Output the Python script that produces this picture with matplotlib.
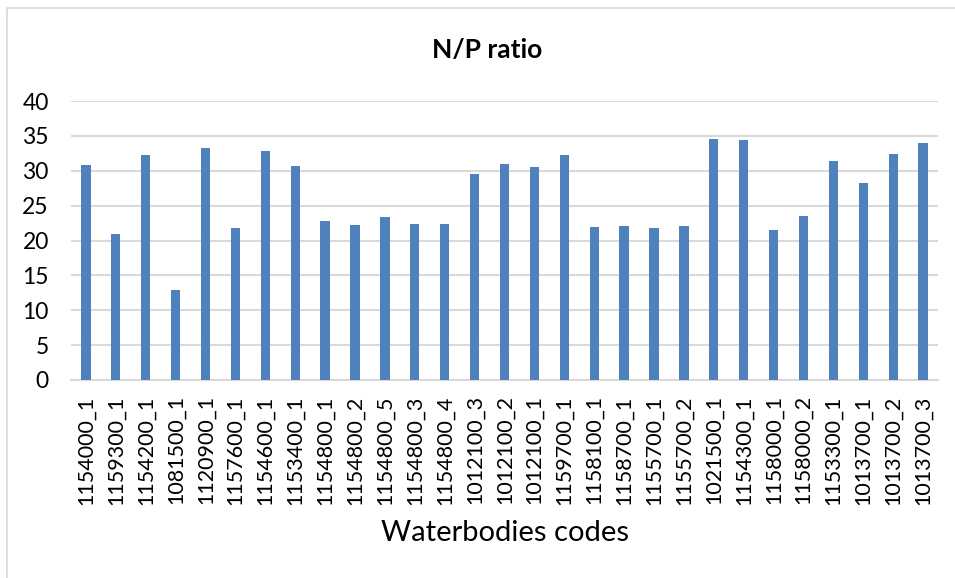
import matplotlib.pyplot as plt
from matplotlib.patches import Rectangle
import numpy as np

codes = ['1154000_1', '1159300_1', '1154200_1', '1081500_1', '1120900_1', '1157600_1',
         '1154600_1', '1153400_1', '1154800_1', '1154800_2', '1154800_5', '1154800_3',
         '1154800_4', '1012100_3', '1012100_2', '1012100_1', '1159700_1', '1158100_1',
         '1158700_1', '1155700_1', '1155700_2', '1021500_1', '1154300_1', '1158000_1',
         '1158000_2', '1153300_1', '1013700_1', '1013700_2', '1013700_3']
np_ratio = [30.8, 21.0, 32.3, 12.9, 33.3, 21.8, 32.8, 30.7, 22.8, 22.2, 23.4, 22.4,
            22.4, 29.6, 31.0, 30.6, 32.3, 21.9, 22.1, 21.8, 22.1, 34.5, 34.4, 21.5,
            23.5, 31.4, 28.3, 32.4, 34.0]

plt.rcParams['font.family'] = ['Lato', 'DejaVu Sans']

W, H = 955, 578
fig = plt.figure(figsize=(W / 100, H / 100), dpi=100)
ax = fig.add_axes([71 / W, 198 / H, 867 / W, 279 / H])

# light frame around the chart area (runs off the right and bottom edge)
fig.patches.append(Rectangle((7 / W, -1), 2, 2 - 8 / H, transform=fig.transFigure,
                             fill=False, edgecolor='#d9d9d9', linewidth=1.2))

x = np.arange(len(codes))
ax.bar(x, np_ratio, width=0.31, color='#4f81bd', zorder=3)

ax.set_xlim(-0.5, len(codes) - 0.5)
ax.set_ylim(0, 40)
ax.set_yticks(range(0, 41, 5))
ax.set_xticks(x)
ax.set_xticklabels(codes, rotation=90, fontsize=15.5)
ax.tick_params(axis='y', length=0, pad=16, labelsize=16.5)
ax.tick_params(axis='x', length=0, pad=11)
ax.grid(axis='y', color='#d9d9d9', linewidth=1.5, zorder=0)
for side in ['top', 'right', 'left']:
    ax.spines[side].set_visible(False)
ax.spines['bottom'].set_color('#d9d9d9')
ax.spines['bottom'].set_linewidth(1.5)

fig.text(487 / W, 1 - 50 / H, 'N/P ratio', fontsize=19, fontweight='bold',
         ha='center', va='center')
fig.text(505 / W, 1 - 533 / H, 'Waterbodies codes', fontsize=21,
         ha='center', va='center')

fig.savefig('out.png', dpi=100)
